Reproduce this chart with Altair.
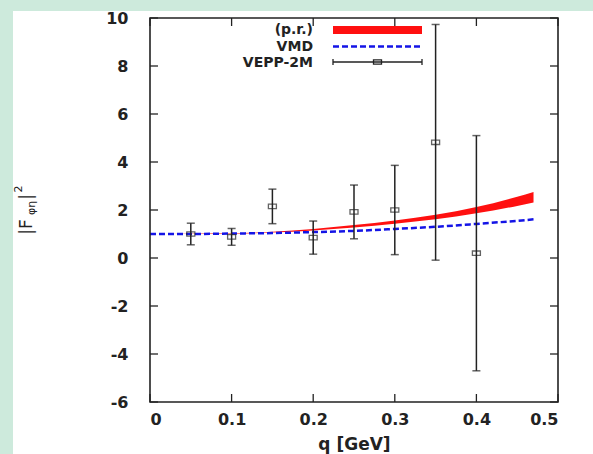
import altair as alt
import pandas as pd

# VEPP-2M measurements of |F_phi-eta|^2 with symmetric errors
q_pts = [0.05, 0.10, 0.15, 0.20, 0.25, 0.30, 0.35, 0.40]
f_pts = [1.00, 0.88, 2.15, 0.85, 1.92, 2.00, 4.82, 0.20]
f_err = [0.45, 0.35, 0.72, 0.69, 1.12, 1.86, 4.91, 4.90]

# model curves
q_curve = [0.00, 0.05, 0.10, 0.15, 0.20, 0.25, 0.30, 0.35, 0.40, 0.45, 0.47]
vmd = [1.00, 1.00, 1.02, 1.04, 1.08, 1.13, 1.21, 1.30, 1.42, 1.55, 1.61]
pr_lo = [1.00, 1.00, 1.01, 1.06, 1.15, 1.27, 1.43, 1.61, 1.86, 2.17, 2.31]
pr_hi = [1.00, 1.01, 1.03, 1.09, 1.21, 1.37, 1.56, 1.80, 2.12, 2.55, 2.75]

x_ticks = [0, 0.1, 0.2, 0.3, 0.4, 0.5]
y_ticks = [-6, -4, -2, 0, 2, 4, 6, 8, 10]
legend_labels = ["(p.r.)", "VMD", "VEPP-2M"]

W, H = 408, 384
FONT = "DejaVu Sans"
INK = "#222222"

pts = pd.DataFrame({"q": q_pts, "f": f_pts, "err": f_err})
pts["lo"] = pts["f"] - pts["err"]
pts["hi"] = pts["f"] + pts["err"]
curves = pd.DataFrame({"q": q_curve, "vmd": vmd, "lo": pr_lo, "hi": pr_hi})
xt = pd.DataFrame({"v": x_ticks})
yt = pd.DataFrame({"v": y_ticks})

xs = alt.Scale(domain=[0, 0.5], nice=False, zero=False)
ys = alt.Scale(domain=[-6, 10], nice=False, zero=False)
x_axis = alt.Axis(values=x_ticks, format="~g", ticks=False, domain=False, grid=False,
                  labelPadding=9, title="q [GeV]", titlePadding=9, zindex=2)
# plain hyphen for negative tick labels
y_axis = alt.Axis(values=y_ticks, ticks=False, domain=False, grid=False,
                  labelExpr="datum.value < 0 ? '-' + abs(datum.value) : '' + datum.value",
                  labelPadding=22, title=None, zindex=2)


def X(field):
    return alt.X(field, type="quantitative", scale=xs, axis=x_axis)


def Y(field):
    return alt.Y(field, type="quantitative", scale=ys, axis=y_axis)


one = pd.DataFrame({"k": [0]})

# white page panel behind the figure
panel = alt.Chart(one).mark_rect(color="white").encode(
    x=alt.value(-137), x2=alt.value(W + 35), y=alt.value(-7), y2=alt.value(H + 52)
)

band = alt.Chart(curves).mark_area(color="#ff1010", interpolate="monotone").encode(
    x=X("q"), y=Y("lo"), y2="hi"
)
vmd_line = alt.Chart(curves).mark_line(
    color="#1414e6", strokeWidth=2.5, strokeDash=[6, 3], interpolate="monotone"
).encode(x=X("q"), y=Y("vmd"))

bars = alt.Chart(pts).mark_rule(color=INK, strokeWidth=1.5).encode(
    x=X("q"), y=Y("lo"), y2="hi"
)
cap_lo = alt.Chart(pts).mark_tick(color=INK, orient="horizontal", size=8, thickness=1.5).encode(
    x=X("q"), y=Y("lo")
)
cap_hi = alt.Chart(pts).mark_tick(color=INK, orient="horizontal", size=8, thickness=1.5).encode(
    x=X("q"), y=Y("hi")
)
BOX = "M-1,-0.55L1,-0.55L1,0.55L-1,0.55Z"
boxes = alt.Chart(pts).mark_point(shape=BOX, size=64, color=INK, strokeWidth=1.3, filled=False).encode(
    x=X("q"), y=Y("f")
)

# inward ticks on all four sides
TL = 8
tick_l = alt.Chart(yt).mark_rule(color=INK, strokeWidth=1.3).encode(y=Y("v"), x=alt.value(0), x2=alt.value(TL))
tick_r = alt.Chart(yt).mark_rule(color=INK, strokeWidth=1.3).encode(y=Y("v"), x=alt.value(W - TL), x2=alt.value(W))
tick_b = alt.Chart(xt).mark_rule(color=INK, strokeWidth=1.3).encode(x=X("v"), y=alt.value(H), y2=alt.value(H - TL))
tick_t = alt.Chart(xt).mark_rule(color=INK, strokeWidth=1.3).encode(x=X("v"), y=alt.value(0), y2=alt.value(TL))

frame = alt.Chart(one).mark_rect(filled=False, stroke=INK, strokeWidth=1.6).encode(
    x=alt.value(0), x2=alt.value(W), y=alt.value(0), y2=alt.value(H)
)

# key in the upper right corner
def key_text(label, ypos):
    return alt.Chart(pd.DataFrame({"t": [label]})).mark_text(
        align="right", baseline="middle", font=FONT, fontSize=14, fontWeight="bold", color=INK
    ).encode(text="t:N", x=alt.value(163), y=alt.value(ypos))

KX0, KX1 = 183, 272
key = [
    key_text(legend_labels[0], 12),
    key_text(legend_labels[1], 28.5),
    key_text(legend_labels[2], 45),
    alt.Chart(one).mark_rect(color="#ff1010").encode(
        x=alt.value(KX0), x2=alt.value(KX1), y=alt.value(8), y2=alt.value(16)),
    alt.Chart(one).mark_rule(color="#1414e6", strokeWidth=2.5, strokeDash=[6, 3]).encode(
        x=alt.value(KX0), x2=alt.value(KX1), y=alt.value(28.5)),
    alt.Chart(one).mark_rule(color=INK, strokeWidth=1.3).encode(
        x=alt.value(KX0), x2=alt.value(KX1), y=alt.value(44)),
    alt.Chart(one).mark_rule(color=INK, strokeWidth=1.3).encode(
        x=alt.value(KX0), y=alt.value(41), y2=alt.value(47)),
    alt.Chart(one).mark_rule(color=INK, strokeWidth=1.3).encode(
        x=alt.value(KX1), y=alt.value(41), y2=alt.value(47)),
    alt.Chart(one).mark_point(shape=BOX, size=64, color=INK, strokeWidth=1.3, filled=False, opacity=1).encode(
        x=alt.value((KX0 + KX1) / 2), y=alt.value(44)),
]

# rotated y-axis title |F_{phi eta}|^2 built from pieces
def ytitle(txt, xpos, ypos, size):
    return alt.Chart(pd.DataFrame({"t": [txt]})).mark_text(
        angle=270, align="center", baseline="middle", font=FONT, fontSize=size, color=INK
    ).encode(text="t:N", x=alt.value(xpos), y=alt.value(ypos))

ytitle_parts = [
    ytitle("|F", -123, 209, 17),
    ytitle("φη", -118, 190, 11),
    ytitle("|", -123, 179, 17),
    ytitle("2", -131, 171, 11),
]

chart = alt.layer(
    panel, band, vmd_line, bars, cap_lo, cap_hi, boxes,
    tick_l, tick_r, tick_b, tick_t, frame, *key, *ytitle_parts
).properties(
    width=W, height=H,
    background="#cdeadc",
    padding={"left": 150, "top": 18, "right": 35, "bottom": 52},
    autosize=alt.AutoSizeParams(type="none"),
).configure_view(stroke=None).configure_axis(
    labelFont=FONT, labelFontSize=16, labelFontWeight="bold", labelColor=INK,
    titleFont=FONT, titleFontSize=17, titleFontWeight="bold", titleColor=INK,
)

chart.save("out.html", embed_options={"renderer": "svg", "actions": False})
